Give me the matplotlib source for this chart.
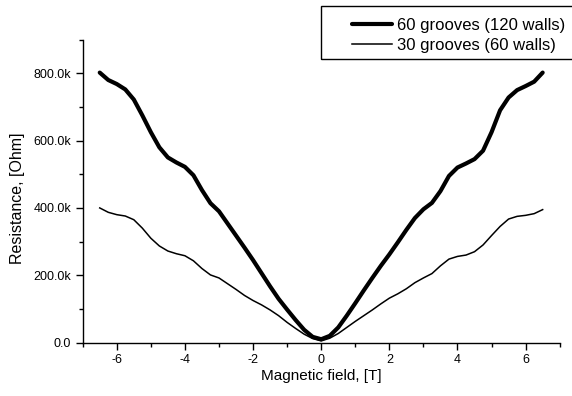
import matplotlib
matplotlib.use("Agg")
import matplotlib.pyplot as plt
from matplotlib.ticker import MultipleLocator, FuncFormatter
from matplotlib.patches import Rectangle
import numpy as np

plt.rcParams['font.family'] = ['Liberation Sans', 'DejaVu Sans']
plt.rcParams['axes.unicode_minus'] = False

# magnetic field, T
field = [-6.5, -6.25, -6.0, -5.75, -5.5, -5.25, -5.0, -4.75, -4.5, -4.25,
         -4.0, -3.75, -3.5, -3.25, -3.0, -2.75, -2.5, -2.25, -2.0, -1.75,
         -1.5, -1.25, -1.0, -0.75, -0.5, -0.25, 0.0, 0.25, 0.5, 0.75,
         1.0, 1.25, 1.5, 1.75, 2.0, 2.25, 2.5, 2.75, 3.0, 3.25,
         3.5, 3.75, 4.0, 4.25, 4.5, 4.75, 5.0, 5.25, 5.5, 5.75,
         6.0, 6.25, 6.5]

# resistance, kOhm
r_60 = [802, 780, 768, 752, 722, 675, 625, 580, 550, 535,
        522, 497, 453, 414, 390, 354, 318, 282, 245, 206,
        167, 130, 98, 67, 38, 17, 10, 20, 45, 80,
        117, 155, 192, 228, 262, 298, 335, 370, 396, 415,
        450, 495, 520, 532, 545, 570, 625, 690, 728, 750,
        762, 775, 802]

r_30 = [400, 387, 380, 376, 365, 340, 310, 287, 272, 264,
        258, 243, 220, 201, 192, 175, 158, 140, 125, 112,
        97, 80, 60, 42, 25, 12, 5, 13, 27, 45,
        63, 80, 97, 115, 132, 145, 160, 178, 192, 205,
        228, 248, 256, 260, 270, 290, 318, 345, 367, 375,
        378, 383, 395]

labels = ['60 grooves (120 walls)', '30 grooves (60 walls)']

W, H = 572, 396
fig = plt.figure(figsize=(W / 100, H / 100), dpi=100)
ax = fig.add_axes([82.7 / W, 1 - 342.6 / H, (559.7 - 82.7) / W, (342.6 - 39.6) / H])

x = np.array(field)
l1, = ax.plot(x, np.array(r_60) * 1e3, color='black', lw=3.0,
              solid_capstyle='round', solid_joinstyle='round')
l2, = ax.plot(x, np.array(r_30) * 1e3, color='black', lw=1.1,
              solid_joinstyle='round')

ax.set_xlim(-7, 7)
ax.set_ylim(0, 900e3)
ax.xaxis.set_major_locator(MultipleLocator(2))
ax.xaxis.set_minor_locator(MultipleLocator(1))
ax.yaxis.set_major_locator(MultipleLocator(200e3))
ax.yaxis.set_minor_locator(MultipleLocator(100e3))
ax.yaxis.set_major_formatter(FuncFormatter(lambda v, p: '0.0' if v == 0 else '%.1fk' % (v / 1e3)))

ax.spines['top'].set_visible(False)
ax.spines['right'].set_visible(False)
ax.spines['left'].set_linewidth(1.0)
ax.spines['bottom'].set_linewidth(1.0)
ax.tick_params(which='major', direction='out', length=4.8, width=1.0, labelsize=9, pad=3.5)
ax.tick_params(which='minor', direction='out', length=3, width=1.0)

fig.text(18 / W, 1 - 198 / H, 'Resistance, [Ohm]', rotation=90, ha='center', va='center', fontsize=11.5)
fig.text((82.7 + 559.7) / 2 / W, 1 - 376 / H, 'Magnetic field, [T]', ha='center', va='center', fontsize=11)

# legend frame runs past the right edge of the figure
fig.patches.append(Rectangle((320.7 / W, 1 - 59.3 / H), 300 / W, 53 / H,
                             transform=fig.transFigure, fill=False, lw=1.0, edgecolor='black'))
fig.legend([l1, l2], labels, loc='upper left', bbox_to_anchor=(340 / W, 1 - 6 / H),
           frameon=False, fontsize=12, handlelength=2.4, handletextpad=0.35,
           labelspacing=0.3, borderpad=0.2)

fig.savefig('out.png', dpi=100)
